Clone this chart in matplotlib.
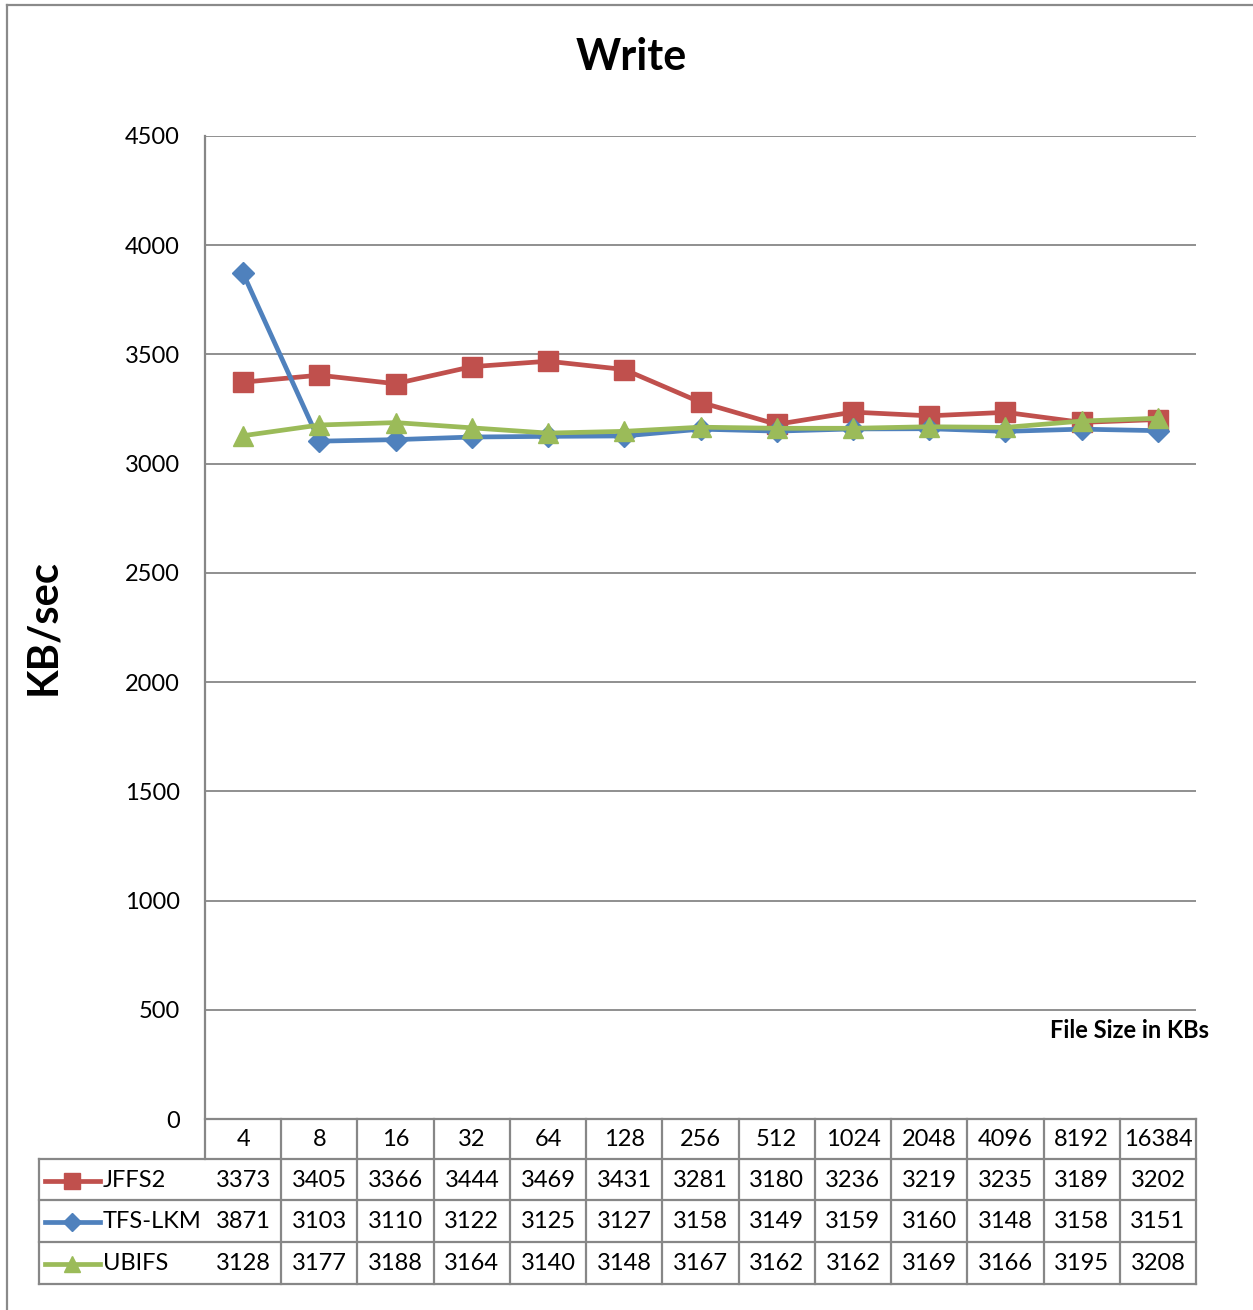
import matplotlib
matplotlib.use("Agg")
import matplotlib.pyplot as plt
import matplotlib.transforms as mtransforms
from matplotlib.lines import Line2D
import numpy as np

plt.rcParams['font.family'] = ['Lato', 'DejaVu Sans']

file_sizes = ["4", "8", "16", "32", "64", "128", "256", "512", "1024", "2048", "4096", "8192", "16384"]
series_names = ["JFFS2", "TFS-LKM", "UBIFS"]
jffs2 = [3373, 3405, 3366, 3444, 3469, 3431, 3281, 3180, 3236, 3219, 3235, 3189, 3202]
tfs_lkm = [3871, 3103, 3110, 3122, 3125, 3127, 3158, 3149, 3159, 3160, 3148, 3158, 3151]
ubifs = [3128, 3177, 3188, 3164, 3140, 3148, 3167, 3162, 3162, 3169, 3166, 3195, 3208]
y_ticks = [0, 500, 1000, 1500, 2000, 2500, 3000, 3500, 4000, 4500]

colors = ["#C0504D", "#4F81BD", "#9BBB59"]
markers = ["s", "D", "^"]
msizes = [14, 11, 14]
grid_c = "#878787"
fs = 17

W, H = 1253, 1310
fig = plt.figure(figsize=(W / 100, H / 100), dpi=100)

# plot area in pixels
L, R, T, B = 205, 1196, 136, 1119
ax = fig.add_axes([L / W, 1 - B / H, (R - L) / W, (B - T) / H])
n = len(file_sizes)
x = np.arange(n)
ax.set_xlim(-0.5, n - 0.5)
ax.set_ylim(0, 4500)
for s in ax.spines.values():
    s.set_visible(False)
ax.set_xticks([])
ax.set_yticks(y_ticks)
ax.set_yticklabels([str(v) for v in y_ticks], fontsize=fs)
ax.tick_params(axis='y', length=0, pad=18)
for v in y_ticks[1:]:
    ax.axhline(v, color=grid_c, lw=1.3, zorder=1)

for vals, c, m, ms, name in zip([jffs2, tfs_lkm, ubifs], colors, markers, msizes, series_names):
    ax.plot(x, vals, color=c, lw=3.4, marker=m, markersize=ms, markeredgecolor=c,
            markerfacecolor=c, zorder=3, label=name)

fig.text(631 / W, 1 - 57 / H, "Write", fontsize=31, fontweight='bold', ha='center', va='center')
fig.text(43 / W, 1 - 627 / H, "KB/sec", fontsize=30, fontweight='bold', ha='center', va='center',
         rotation=90)

# helpers for pixel -> axes coordinates
def ax_x(px):
    return (px - L) / (R - L)

def ax_y(py):
    return (B - py) / (B - T)

tr = ax.transAxes
blend = mtransforms.blended_transform_factory(ax.transData, tr)
line_kw = dict(color=grid_c, lw=1.6, transform=tr, clip_on=False, zorder=2)

# y axis line extended through the header row
ax.add_line(Line2D([0, 0], [ax_y(136), ax_y(1159)], **line_kw))

# data table
row_edges = [1119, 1159, 1200, 1242, 1284]
tab_left = 39
ax.add_line(Line2D([0, 1], [ax_y(row_edges[0])] * 2, **line_kw))
for ry in row_edges[1:]:
    ax.add_line(Line2D([ax_x(tab_left), 1], [ax_y(ry)] * 2, **line_kw))
col_edges = [ax_x(L + (R - L) * i / n) for i in range(n + 1)]
for cx in col_edges[1:]:
    ax.add_line(Line2D([cx, cx], [ax_y(row_edges[0]), ax_y(row_edges[-1])], **line_kw))
ax.add_line(Line2D([ax_x(tab_left)] * 2, [ax_y(row_edges[1]), ax_y(row_edges[-1])], **line_kw))

# header labels
for i, lab in enumerate(file_sizes):
    ax.text(i, ax_y((row_edges[0] + row_edges[1]) / 2 + 1), lab, ha='center', va='center',
            fontsize=fs, transform=blend, clip_on=False)

for r, (vals, c, m, ms, name) in enumerate(zip([jffs2, tfs_lkm, ubifs], colors, markers, msizes, series_names)):
    yc = ax_y((row_edges[r + 1] + row_edges[r + 2]) / 2 + 1)
    for i, v in enumerate(vals):
        ax.text(i, yc, str(v), ha='center', va='center', fontsize=fs, transform=blend, clip_on=False)
    # legend key
    ax.add_line(Line2D([ax_x(45), ax_x(100)], [yc, yc], color=c, lw=3.4, transform=tr, clip_on=False))
    ax.add_line(Line2D([ax_x(72)], [yc], color=c, marker=m, markersize=ms * 0.85, markeredgecolor=c,
                       markerfacecolor=c, transform=tr, clip_on=False, lw=0))
    ax.text(ax_x(103), yc, name, ha='left', va='center', fontsize=fs, transform=tr, clip_on=False)

# category axis title
ax.text(ax_x(1209), ax_y(1030), "File Size in KBs", ha='right', va='center', fontsize=17,
        fontweight='bold', transform=tr, clip_on=False)

# chart border (left and top edges)
fig.add_artist(Line2D([7 / W, 7 / W], [0, 1 - 5 / H], color="#8a8a8a", lw=1.6, transform=fig.transFigure))
fig.add_artist(Line2D([7 / W, 1], [1 - 5 / H, 1 - 5 / H], color="#8a8a8a", lw=1.6, transform=fig.transFigure))

fig.savefig("out.png", dpi=100, facecolor="white")
